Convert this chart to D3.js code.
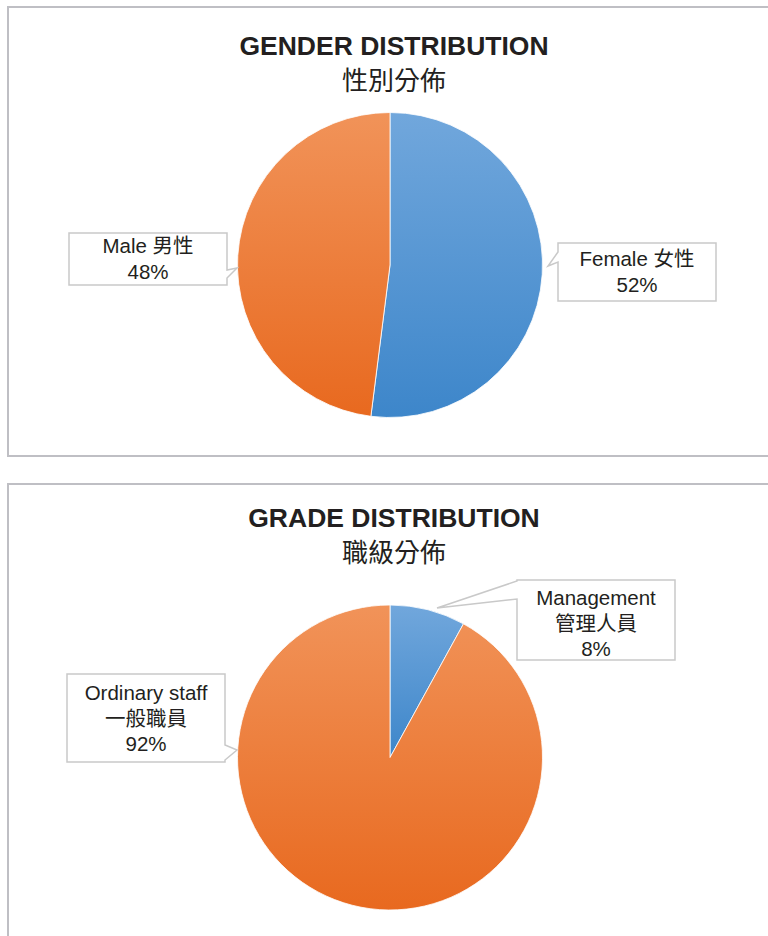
<!DOCTYPE html>
<html><head><meta charset="utf-8">
<script src="https://cdn.jsdelivr.net/npm/d3@7"></script>
<style>body{margin:0;background:#fff}svg{display:block}</style>
</head><body>
<script>
// ---- data ----
const genderCategories = ["Female 女性", "Male 男性"];
const genderValues = [52, 48];
const genderTitle = ["GENDER DISTRIBUTION", "性別分佈"];

const gradeCategories = [["Management", "管理人員"], ["Ordinary staff", "一般職員"]];
const gradeValues = [8, 92];
const gradeTitle = ["GRADE DISTRIBUTION", "職級分佈"];

// ---- layout ----
const W = 768, H = 936;
const svg = d3.select("body").append("svg").attr("width", W).attr("height", H);
const defs = svg.append("defs");
function grad(id, c1, c2) {
  const g = defs.append("linearGradient").attr("id", id).attr("x1", 0).attr("y1", 0).attr("x2", 0).attr("y2", 1);
  g.append("stop").attr("offset", "0%").attr("stop-color", c1);
  g.append("stop").attr("offset", "100%").attr("stop-color", c2);
}
grad("gBlue", "#71a7dc", "#3d86ca");
grad("gOrange", "#f19359", "#e8691f");
const fills = ["url(#gBlue)", "url(#gOrange)"];

const panels = [
  {y0: 7, y1: 456, title: genderTitle, titleY: [55, 90], cx: 390, cy: 265, r: 152.5,
   values: genderValues, labels: genderCategories.map((c, i) => [c, genderValues[i] + "%"]),
   boxes: [
     {x0: 558, y0: 243, x1: 716, y1: 301, side: "left", n1: 252, n2: 262, tip: [548, 266], base: 266},
     {x0: 69, y0: 233, x1: 227, y1: 285, side: "right", n1: 270, n2: 278, tip: [237, 268], base: 253}
   ]},
  {y0: 484, y1: 960, title: gradeTitle, titleY: [527, 562], cx: 390, cy: 757.5, r: 152.5,
   values: gradeValues, labels: gradeCategories.map((c, i) => [...c, gradeValues[i] + "%"]),
   boxes: [
     {x0: 517, y0: 580, x1: 675, y1: 660, side: "left", n1: 581, n2: 599, tip: [437, 608], base: 605},
     {x0: 67, y0: 674, x1: 225, y1: 762, side: "right", n1: 745, n2: 760, tip: [237, 750], base: 700}
   ]}
];

const pie = d3.pie().sort(null).value(d => d);

panels.forEach(p => {
  svg.append("rect").attr("x", 8).attr("y", p.y0).attr("width", 800).attr("height", p.y1 - p.y0)
    .attr("fill", "#fff").attr("stroke", "#bfbfc4").attr("stroke-width", 2);
  svg.append("text").attr("x", 394).attr("y", p.titleY[0]).attr("text-anchor", "middle")
    .attr("font-family", "Liberation Sans, Arial, sans-serif").attr("font-weight", "bold")
    .attr("font-size", 26.5).attr("fill", "#231f20").text(p.title[0]);
  svg.append("text").attr("x", 394).attr("y", p.titleY[1]).attr("text-anchor", "middle")
    .attr("font-family", "Noto Sans CJK TC, sans-serif")
    .attr("font-size", 26).attr("fill", "#231f20").text(p.title[1]);

  const arc = d3.arc().innerRadius(0).outerRadius(p.r);
  const g = svg.append("g").attr("transform", `translate(${p.cx},${p.cy})`);
  g.selectAll("path").data(pie(p.values)).join("path")
    .attr("d", arc).attr("fill", (d, i) => fills[i])
    .attr("stroke", "#ffffff").attr("stroke-width", 0.8);

  p.boxes.forEach((b, i) => {
    let d;
    if (b.side === "left") {
      d = `M${b.x0},${b.y0}H${b.x1}V${b.y1}H${b.x0}V${b.n2}L${b.tip[0]},${b.tip[1]}L${b.x0},${b.n1}Z`;
    } else {
      d = `M${b.x0},${b.y0}H${b.x1}V${b.n1}L${b.tip[0]},${b.tip[1]}L${b.x1},${b.n2}V${b.y1}H${b.x0}Z`;
    }
    svg.append("path").attr("d", d).attr("fill", "#fff").attr("stroke", "#c9c9c9").attr("stroke-width", 1.5);
    const t = svg.append("text").attr("text-anchor", "middle")
      .attr("font-family", "Liberation Sans, Arial, 'Noto Sans CJK TC', sans-serif")
      .attr("font-size", 20.5).attr("fill", "#231f20");
    p.labels[i].forEach((line, k) => {
      t.append("tspan").attr("x", (b.x0 + b.x1) / 2).attr("y", b.base + k * 25.5).text(line);
    });
  });
});
</script>
</body></html>
